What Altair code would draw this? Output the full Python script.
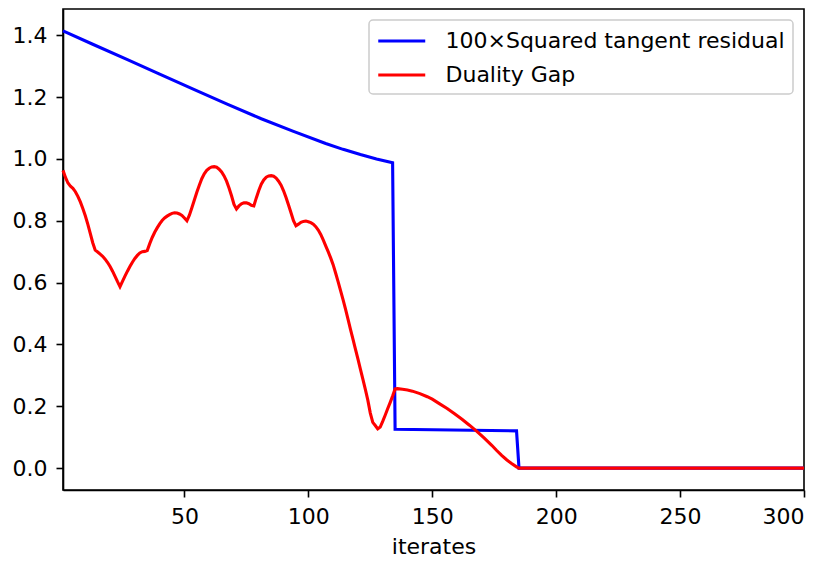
import altair as alt
import pandas as pd

blue_name = "100×Squared tangent residual"
red_name = "Duality Gap"

blue_x = [1, 13, 27, 40, 54, 67, 81, 94, 107, 114, 121, 127.5, 134, 135, 184, 185, 300]
blue_y = [1.414, 1.371, 1.321, 1.274, 1.224, 1.178, 1.130, 1.089, 1.050, 1.031, 1.014,
          1.000, 0.988, 0.1255, 0.1205, 0.0, 0.0]

red_x = list(range(1, 136)) + [136, 138, 140, 142, 145, 148, 150, 153, 156, 159, 162,
                               165, 168, 171, 174, 176, 178, 180, 182, 184, 185, 300]
red_y = [
    0.963, 0.940, 0.922, 0.912, 0.905, 0.894, 0.879, 0.861, 0.840, 0.816,
    0.789, 0.759, 0.729, 0.705, 0.699, 0.692, 0.685, 0.676, 0.665, 0.652,
    0.637, 0.620, 0.603, 0.587, 0.604, 0.621, 0.637, 0.652, 0.666, 0.678,
    0.688, 0.696, 0.700, 0.701, 0.704, 0.726, 0.746, 0.763, 0.777, 0.790,
    0.801, 0.809, 0.815, 0.820, 0.824, 0.826, 0.825, 0.822, 0.817, 0.809,
    0.800, 0.818, 0.842, 0.867, 0.892, 0.915, 0.936, 0.952, 0.963, 0.970,
    0.974, 0.975, 0.973, 0.967, 0.958, 0.945, 0.928, 0.906, 0.881, 0.853,
    0.838, 0.848, 0.855, 0.858, 0.858, 0.855, 0.850, 0.848, 0.874, 0.898,
    0.918, 0.932, 0.941, 0.945, 0.946, 0.944, 0.938, 0.928, 0.915, 0.897,
    0.875, 0.851, 0.826, 0.800, 0.784, 0.789, 0.795, 0.798, 0.799, 0.797,
    0.794, 0.789, 0.781, 0.770, 0.756, 0.738, 0.719, 0.700, 0.680, 0.658,
    0.631, 0.603, 0.574, 0.545, 0.514, 0.482, 0.449, 0.417, 0.385, 0.353,
    0.320, 0.288, 0.255, 0.220, 0.178, 0.148, 0.138, 0.127, 0.133, 0.151,
    0.171, 0.192, 0.212, 0.233, 0.256,
    0.257, 0.255, 0.253, 0.249, 0.241, 0.231, 0.223, 0.208, 0.193, 0.176, 0.158,
    0.139, 0.119, 0.097, 0.074, 0.057, 0.041, 0.027, 0.015, 0.004, 0.0, 0.0,
]

x_ticks = [50, 100, 150, 200, 250, 300]
y_ticks = [0.0, 0.2, 0.4, 0.6, 0.8, 1.0, 1.2, 1.4]

blue_df = pd.DataFrame({"iter": blue_x, "value": blue_y, "series": blue_name})
red_df = pd.DataFrame({"iter": red_x, "value": red_y, "series": red_name})

FONT = "DejaVu Sans"
FS = 22

x_enc = alt.X(
    "iter:Q",
    scale=alt.Scale(domain=[1, 300], nice=False, zero=False),
    axis=alt.Axis(values=x_ticks, title="iterates", titleY=63,
                  titleBaseline="alphabetic", labelPadding=9, format="d"),
)
y_enc = alt.Y(
    "value:Q",
    scale=alt.Scale(domain=[-0.0707, 1.4849], nice=False, zero=False),
    axis=alt.Axis(values=y_ticks, format=".1f", title=None, labelPadding=9),
)
color_enc = alt.Color(
    "series:N",
    scale=alt.Scale(domain=[blue_name, red_name], range=["#0000ff", "#ff0000"]),
    legend=alt.Legend(title=None, orient="top-right", offset=11),
)

blue_layer = alt.Chart(blue_df).mark_line(strokeWidth=3.1).encode(
    x=x_enc, y=y_enc, color=color_enc)
red_layer = alt.Chart(red_df).mark_line(strokeWidth=3.1).encode(
    x=x_enc, y=y_enc, color=color_enc)

chart = (
    alt.layer(blue_layer, red_layer)
    .properties(
        width=741,
        height=481,
        autosize=alt.AutoSizeParams(type="none"),
        padding={"left": 55, "top": 1, "right": 14, "bottom": 70},
    )
    .configure_view(stroke="black", strokeWidth=1.6)
    .configure_axis(
        grid=False,
        domainColor="black",
        domainWidth=1.6,
        tickColor="black",
        tickWidth=1.6,
        tickSize=7,
        labelFont=FONT,
        labelFontSize=FS,
        labelColor="black",
        titleFont=FONT,
        titleFontSize=FS,
        titleFontWeight="normal",
        titleColor="black",
    )
    .configure_legend(
        labelFont=FONT,
        labelFontSize=FS,
        labelColor="black",
        labelLimit=600,
        symbolType="M-1,0L3,0",
        symbolStrokeWidth=3.1,
        symbolSize=552,
        labelOffset=42,
        rowPadding=9,
        padding=7.5,
        strokeColor="#cccccc",
        fillColor="white",
        cornerRadius=4,
        strokeWidth=1.5,
    )
)

chart.save("out.html", embed_options={"renderer": "svg", "actions": False})
